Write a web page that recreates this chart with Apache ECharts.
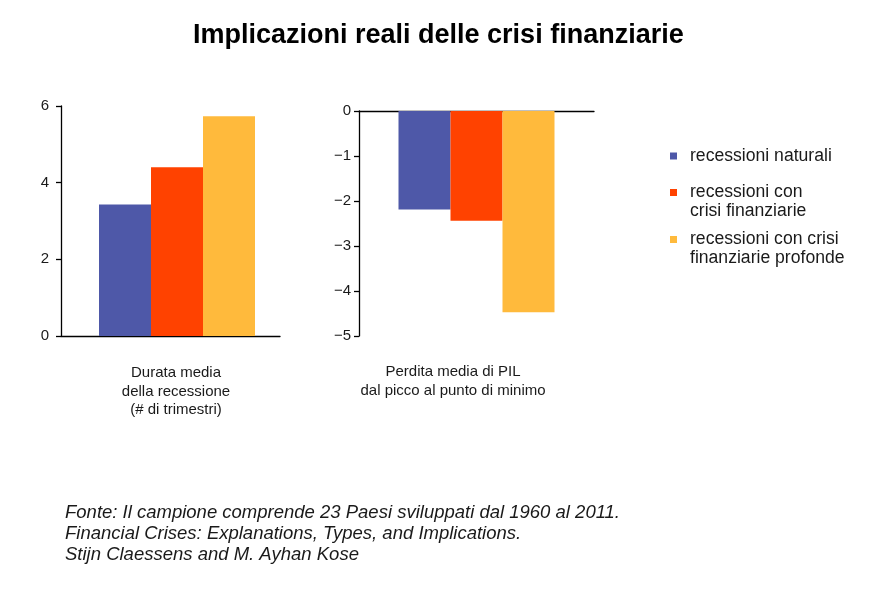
<!DOCTYPE html>
<html>
<head>
<meta charset="utf-8">
<script src="https://cdn.jsdelivr.net/npm/echarts@6/dist/echarts.min.js"></script>
<style>
html,body{margin:0;padding:0;background:#fff;}
#chart{width:885px;height:592px;}
</style>
</head>
<body>
<div id="chart"></div>
<script>
// ---- data ----
const seriesNames = ['recessioni naturali', 'recessioni con crisi finanziarie', 'recessioni con crisi finanziarie profonde'];
const legendLabels = ['recessioni naturali', 'recessioni con\ncrisi finanziarie', 'recessioni con crisi\nfinanziarie profonde'];
const durataCategory = ['Durata media della recessione'];
const perditaCategory = ['Perdita media di PIL'];
const durataValues = [3.43, 4.40, 5.73];
const perditaValues = [-2.19, -2.44, -4.47];
const durataTicks = [0, 6, 2];      // min, max, interval
const perditaTicks = [-5, 0, 1];    // min, max, interval
const durataLabel = 'Durata media\ndella recessione\n(# di trimestri)';
const perditaLabel = 'Perdita media di PIL\ndal picco al punto di minimo';
const titleText = 'Implicazioni reali delle crisi finanziarie';
const sourceText = 'Fonte: Il campione comprende 23 Paesi sviluppati dal 1960 al 2011.\nFinancial Crises: Explanations, Types, and Implications.\nStijn Claessens and M. Ayhan Kose';
const colors = ['#4E58A8', '#FF4200', '#FFBA3C'];

const FONT = '"Liberation Sans", Arial, Helvetica, sans-serif';
const TXT = '#1a1a1a';

const chart = echarts.init(document.getElementById('chart'), null, {renderer: 'canvas'});

function yAxisCfg(gridIndex, ticks, margin) {
  return {
    type: 'value', gridIndex: gridIndex,
    min: ticks[0], max: ticks[1], interval: ticks[2],
    axisLine: {show: true, lineStyle: {color: '#000', width: 1.3}},
    axisTick: {show: true, length: 5, inside: false, lineStyle: {color: '#000', width: 1.3}},
    axisLabel: {
      color: TXT, fontSize: 15, fontFamily: FONT, margin: margin,
      formatter: function (v) { return String(v).replace('-', '\u2212'); }
    },
    splitLine: {show: false}
  };
}
function xAxisCfg(gridIndex, cats) {
  return {
    type: 'category', gridIndex: gridIndex, data: cats,
    axisLine: {show: true, onZero: true, lineStyle: {color: '#000', width: 1.3}},
    axisTick: {show: false},
    axisLabel: {show: false},
    splitLine: {show: false}
  };
}

const series = [];
// spacer keeps the left bar group offset as in the reference
series.push({
  type: 'bar', name: '_spacer', xAxisIndex: 0, yAxisIndex: 0,
  data: [null], barWidth: 13, barGap: '0%', silent: true, itemStyle: {color: 'rgba(0,0,0,0)'}
});
seriesNames.forEach(function (n, i) {
  series.push({
    type: 'bar', name: n, xAxisIndex: 0, yAxisIndex: 0,
    data: [durataValues[i]], barWidth: 52, barGap: '0%',
    itemStyle: {color: colors[i]}, silent: true
  });
});
seriesNames.forEach(function (n, i) {
  series.push({
    type: 'bar', name: n, xAxisIndex: 1, yAxisIndex: 1,
    data: [perditaValues[i]], barWidth: 52, barGap: '0%',
    itemStyle: {color: colors[i]}, silent: true
  });
});

// square at top of a taller icon box so that it lines up with the first text line
const topSquare = 'path://M0,0L7,0L7,7L0,7Z M0,26L0,26';
const legendTops = [146.5, 183, 230];
const legends = seriesNames.map(function (n, i) {
  const twoLine = legendLabels[i].indexOf('\n') >= 0;
  return {
    data: [n], left: 670, top: legendTops[i], orient: 'vertical',
    padding: 0, selectedMode: false,
    icon: twoLine ? topSquare : 'rect',
    itemWidth: 7, itemHeight: twoLine ? 26 : 7,
    formatter: function () { return legendLabels[i]; },
    textStyle: {
      color: TXT, fontSize: 17.6, fontFamily: FONT, lineHeight: 19,
      padding: [0, 0, 0, 8]
    }
  };
});

chart.setOption({
  backgroundColor: '#fff',
  animation: false,
  color: colors,
  title: {
    text: titleText, left: 193, top: 22, padding: 0,
    textStyle: {fontSize: 27, fontWeight: 'bold', color: '#000', fontFamily: FONT}
  },
  legend: legends,
  grid: [
    {left: 61, top: 106, width: 219, height: 230},
    {left: 359, top: 111, width: 235, height: 225}
  ],
  xAxis: [xAxisCfg(0, durataCategory), xAxisCfg(1, perditaCategory)],
  yAxis: [yAxisCfg(0, durataTicks, 12), yAxisCfg(1, perditaTicks, 8)],
  series: series,
  graphic: [
    {type: 'text', x: 176, y: 364, style: {text: durataLabel, align: 'center', verticalAlign: 'top', fontSize: 15, lineHeight: 18.5, fill: TXT, fontFamily: FONT}},
    {type: 'text', x: 453, y: 363, style: {text: perditaLabel, align: 'center', verticalAlign: 'top', fontSize: 15, lineHeight: 18.5, fill: TXT, fontFamily: FONT}},
    {type: 'text', x: 65, y: 502, style: {text: sourceText, align: 'left', verticalAlign: 'top', fontSize: 18.5, fontStyle: 'italic', lineHeight: 21, fill: TXT, fontFamily: FONT}}
  ]
});
</script>
</body>
</html>
